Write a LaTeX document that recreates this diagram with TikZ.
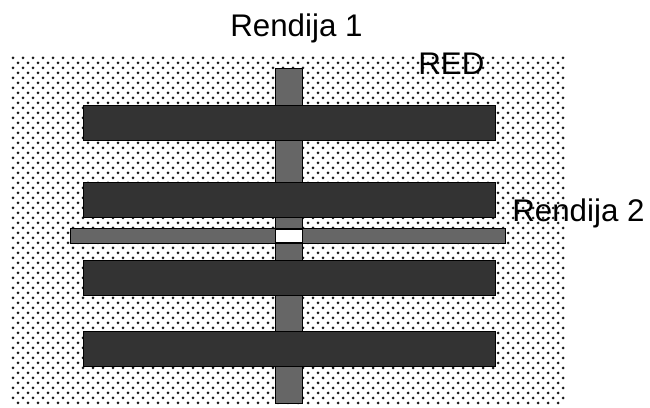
\documentclass[tikz,border=0pt]{standalone}
\usepackage{fontspec}
\setmainfont{Liberation Sans}
\usepackage{xcolor}
\definecolor{bardark}{HTML}{333333}
\definecolor{slitgray}{HTML}{666666}
\definecolor{dotink}{HTML}{1A1A1A}
\usepackage{tikz}

\begin{document}
\begin{tikzpicture}[x=0.2mm,y=-0.2mm,
  bar/.style={fill=bardark,draw=black,line width=0.5pt},
  slit/.style={fill=slitgray,draw=black,line width=0.5pt},
  lbl/.style={anchor=base west,inner sep=0pt,font=\fontsize{17.8}{20}\selectfont}]
  \useasboundingbox (0,0) rectangle (650,408);

  % --- Grille (fond pointillé) ---
  \foreach \yy in {58,68,...,398}
    \foreach \xx in {13,23,...,563}
      \fill[dotink] (\xx,\yy) circle (0.3mm);
  \foreach \yy in {63,73,...,403}
    \foreach \xx in {18,28,...,558}
      \fill[dotink] (\xx,\yy) circle (0.3mm);

  % --- Rendija 1 (verticale) ---
  \draw[slit] (275,68) rectangle (302,403);

  % --- Barres ---
  \draw[bar] (83,105) rectangle (495,140);
  \draw[bar] (83,182) rectangle (495,217);
  \draw[bar] (83,260) rectangle (495,295);
  \draw[bar] (83,331) rectangle (495,366);

  % --- Rendija 2 (horizontale) + croisement ---
  \draw[slit] (70,228) rectangle (505,243);
  \draw[fill=white,draw=black,line width=0.5pt] (275,229) rectangle (302,242);

  % --- Textes ---
  \node[lbl] (r1) at (230,37) {Rendija 1};
  \node[lbl] (red) at (418,75) {RED};
  \node[lbl] (r2) at (512,222) {Rendija 2};
\end{tikzpicture}
\end{document}
